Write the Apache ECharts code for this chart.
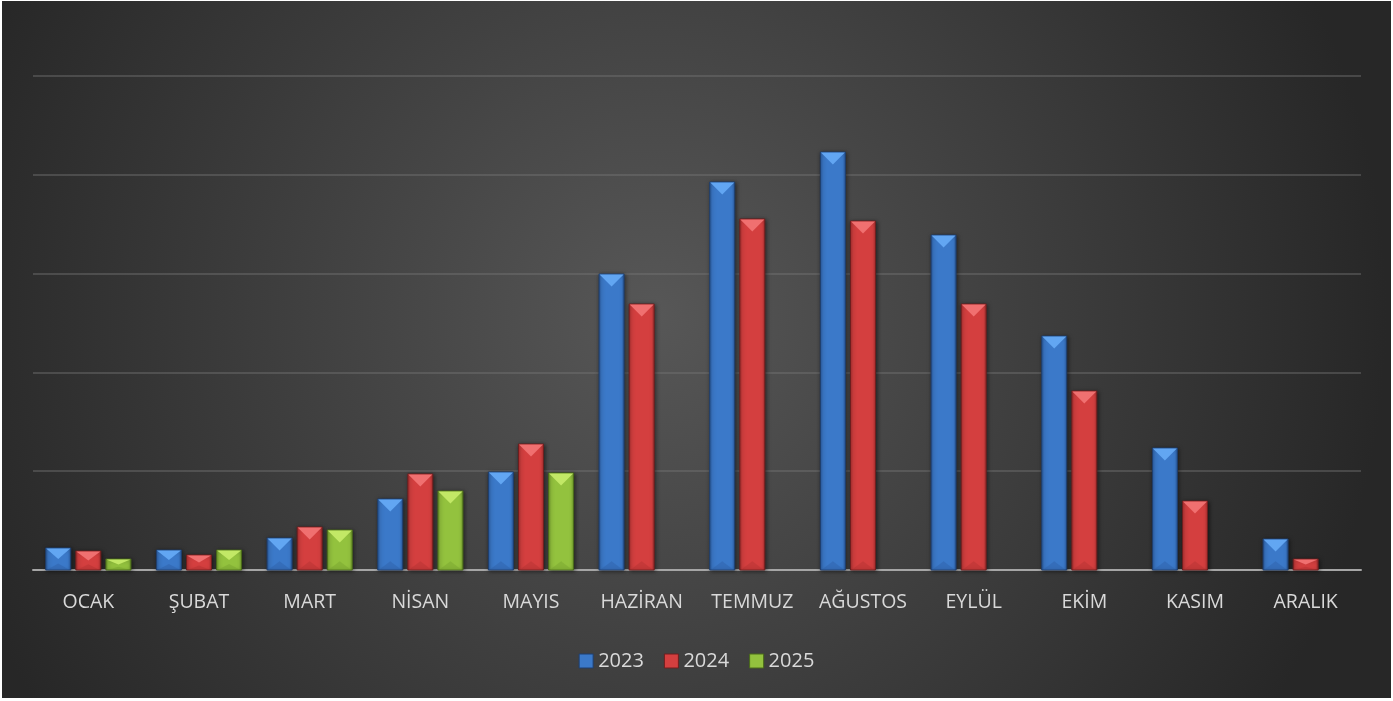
<!DOCTYPE html>
<html><head><meta charset="utf-8">
<script src="https://cdn.jsdelivr.net/npm/echarts@6/dist/echarts.min.js"></script>
<style>html,body{margin:0;padding:0;background:#fff;}#c{position:absolute;left:2px;top:1px;width:1389px;height:697px;}</style>
</head><body><div id="c"></div>
<script>
var months = ['OCAK','ŞUBAT','MART','NİSAN','MAYIS','HAZİRAN','TEMMUZ','AĞUSTOS','EYLÜL','EKİM','KASIM','ARALIK'];
var years = ['2023','2024','2025'];
var v2023 = [22.3, 20.2, 32.4, 71.9, 99.2, 299.6, 392.7, 423, 339, 236.8, 123.5, 31.4];
var v2024 = [19.2, 15.2, 43.5, 97.2, 127.5, 269.2, 355.3, 353.2, 269.2, 181.2, 69.8, 11.1];
var v2025 = [11.1, 20.2, 40.5, 80, 98.2, null, null, null, null, null, null, null];
var yTicks = [0, 100, 200, 300, 400, 500];

var palettes = [
  {main:'#3b79c9', dark:'#2a5a9e', light:'#62a6f2', edge:'#1f3f6e'},
  {main:'#d43f3f', dark:'#a82e2e', light:'#f07070', edge:'#6e1f1f'},
  {main:'#93c23e', dark:'#6f9a2a', light:'#c2e866', edge:'#4a6a1a'}
];
var seriesData = [v2023, v2024, v2025];

function makeRender(k){
  var p = palettes[k];
  return function(params, api){
    var v = api.value(1);
    if (v == null || isNaN(v)) return;
    var base = api.coord([api.value(0), 0]);
    var top = api.coord([api.value(0), v]);
    var band = api.size([1, 0])[0];
    var w = band * 0.226;
    var step = band * 0.272;
    var cx = base[0] + (k - 1) * step;
    var x0 = cx - w / 2;
    var h = base[1] - top[1];
    var cap = Math.min(w * 0.5, h * 0.5);
    var bcap = Math.min(w * 0.35, h * 0.3);
    return {
      type: 'group',
      children: [
        {type:'rect', shape:{x:x0, y:top[1], width:w, height:h},
         style:{fill:new echarts.graphic.LinearGradient(0,0,1,0,[
           {offset:0, color:p.dark},{offset:0.12, color:p.main},{offset:0.5, color:p.main},{offset:0.88, color:p.main},{offset:1, color:p.dark}]),
           stroke:p.edge, lineWidth:1, shadowBlur:4, shadowColor:'rgba(0,0,0,0.5)', shadowOffsetX:1, shadowOffsetY:1}},
        {type:'polygon', shape:{points:[[x0+0.5, top[1]+0.5],[x0+w-0.5, top[1]+0.5],[cx, top[1]+cap]]},
         style:{fill:p.light}},
        {type:'polygon', shape:{points:[[x0+1, base[1]],[x0+w-1, base[1]],[cx, base[1]-bcap]]},
         style:{fill:p.dark, opacity:0.35}}
      ]
    };
  };
}

var series = years.map(function(y, k){
  return {
    name: y,
    type: 'custom',
    renderItem: makeRender(k),
    itemStyle: {color: palettes[k].main},
    encode: {x: 0, y: 1},
    data: seriesData[k].map(function(v, i){ return [i, v]; })
  };
});

var chart = echarts.init(document.getElementById('c'));
chart.setOption({
  backgroundColor: new echarts.graphic.RadialGradient(0.47, 0.45, 1.05, [
    {offset:0, color:'#575757'}, {offset:1, color:'#272727'}]),
  animation: false,
  grid: {left: 31, right: 30, top: 75, bottom: 128, containLabel: false},
  legend: {
    bottom: 22, left: 'center', itemWidth: 14, itemHeight: 14, itemGap: 20, icon: 'rect',
    textStyle: {color: '#d9d9d9', fontSize: 20, fontFamily: 'Open Sans'},
    data: years.map(function(y, k){ return {name: y, itemStyle: {color: palettes[k].main, borderColor: palettes[k].edge, borderWidth: 1}}; })
  },
  xAxis: {
    type: 'category', data: months,
    axisLine: {lineStyle: {color: '#a6a6a6', width: 2}},
    axisTick: {show: false},
    axisLabel: {color: '#d9d9d9', fontSize: 19.5, fontFamily: 'Open Sans', margin: 22, interval: 0, hideOverlap: false}
  },
  yAxis: {
    type: 'value', min: yTicks[0], max: yTicks[yTicks.length-1], interval: 100,
    axisLabel: {show: false}, axisLine: {show: false}, axisTick: {show: false},
    splitLine: {lineStyle: {color: 'rgba(120,120,120,0.55)', width: 1.5}}
  },
  series: series
});
</script></body></html>
